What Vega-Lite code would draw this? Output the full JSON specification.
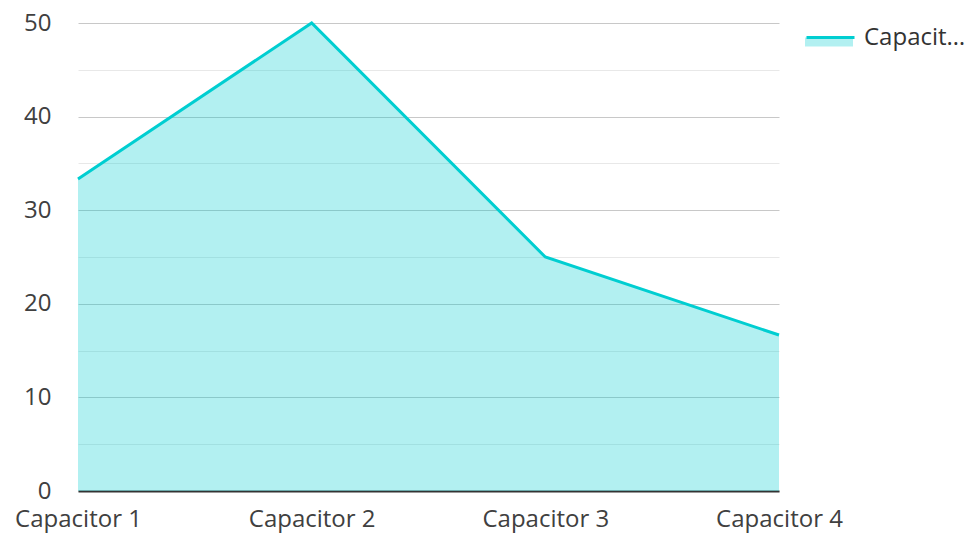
{
  "$schema": "https://vega.github.io/schema/vega-lite/v6.json",
  "autosize": {"type": "none"},
  "padding": {"left": 78, "top": 23, "right": 192, "bottom": 43},
  "width": 701,
  "height": 468,
  "background": "white",
  "config": {
    "view": {"stroke": null},
    "font": "Open Sans",
    "axis": {"labelFont": "Open Sans", "labelFontSize": 24, "labelColor": "#404040"},
    "legend": {"labelFont": "Open Sans", "labelFontSize": 24, "labelColor": "#333333"}
  },
  "data": {
    "values": [
      {"name": "Capacitor 1", "value": 33.33, "series": "Capacitance", "seriesArea": "Capacitance"},
      {"name": "Capacitor 2", "value": 50, "series": "Capacitance", "seriesArea": "Capacitance"},
      {"name": "Capacitor 3", "value": 25, "series": "Capacitance", "seriesArea": "Capacitance"},
      {"name": "Capacitor 4", "value": 16.67, "series": "Capacitance", "seriesArea": "Capacitance"}
    ]
  },
  "encoding": {
    "x": {
      "field": "name", "type": "ordinal", "scale": {"type": "point", "padding": 0},
      "axis": {"title": null, "labelAngle": 0, "ticks": false, "domainColor": "#333333", "domainWidth": 2, "labelPadding": 16, "grid": false}
    },
    "y": {
      "field": "value", "type": "quantitative", "scale": {"domain": [0, 50], "nice": false},
      "axis": {
        "title": null, "values": [0, 5, 10, 15, 20, 25, 30, 35, 40, 45, 50],
        "labelExpr": "datum.value % 10 === 0 ? datum.label : ''",
        "ticks": false, "domain": false, "labelPadding": 27,
        "gridColor": {"condition": {"test": "datum.value % 10 === 0", "value": "#c8c8c8"}, "value": "#e8e8e8"},
        "gridWidth": 1
      }
    }
  },
  "layer": [
    {
      "mark": {"type": "area", "fillOpacity": 0.3},
      "encoding": {
        "fill": {
          "field": "seriesArea", "type": "nominal",
          "scale": {"range": ["#00CED1"]},
          "legend": {
            "title": null, "orient": "none", "legendX": 727, "legendY": -11, "padding": 0,
            "symbolType": "M-1,0.065 L1,0.065 L1,0.44 L-1,0.44 Z", "symbolSize": 2304,
            "symbolOpacity": 0.3, "symbolStrokeWidth": 0, "labelOffset": 8, "labelExpr": "''"
          }
        }
      }
    },
    {
      "mark": {"type": "line", "strokeWidth": 3},
      "encoding": {
        "stroke": {
          "field": "series", "type": "nominal",
          "scale": {"range": ["#00CED1"]},
          "legend": {
            "title": null, "orient": "none", "legendX": 727, "legendY": -11, "padding": 0,
            "symbolType": "stroke", "symbolSize": 2304, "symbolStrokeWidth": 3,
            "labelOffset": 8, "labelLimit": 104
          }
        }
      }
    }
  ]
}
